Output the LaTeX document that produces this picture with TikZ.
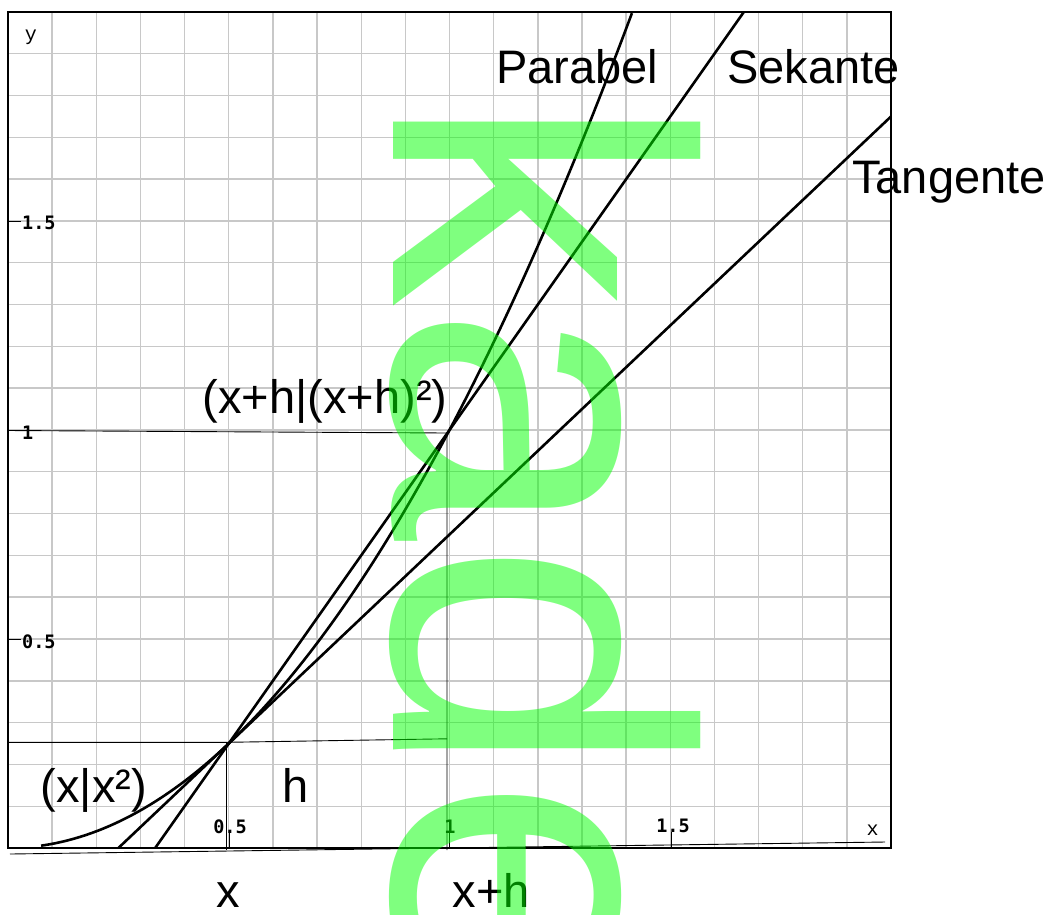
\documentclass[tikz,border=0pt]{standalone}
\usepackage{fontspec}
\setmainfont{Liberation Sans}
\newfontfamily\monof{Liberation Mono}
\newfontfamily\tickf{DejaVu Sans Mono}
\definecolor{gridgray}{RGB}{200,200,200}
\definecolor{wmgreen}{RGB}{0,255,0}
\tikzset{
  gridline/.style={draw=gridgray, line width=1.4pt},
  curve/.style={draw=black, line width=2.6pt, line join=round},
  helper/.style={draw=black, line width=0.9pt},
  tickmark/.style={draw=black, line width=0.9pt},
  frameline/.style={draw=black, line width=1.8pt},
  lbl/.style={font=\fontsize{47}{47}\selectfont, inner sep=0pt, anchor=base west},
  ticklbl/.style={font=\tickf\bfseries\fontsize{18.5}{18.5}\selectfont, inner sep=0pt},
  axlbl/.style={font=\monof\fontsize{20}{20}\selectfont, inner sep=0pt, anchor=base},
  wmtext/.style={font=\fontsize{424}{424}\selectfont, text=wmgreen, text opacity=0.5, inner sep=0pt}
}
\begin{document}
\begin{tikzpicture}[x=1pt,y=-1pt]
\useasboundingbox (0,0) rectangle (1052,914);
\fill[white] (0,0) rectangle (1052,914);

% plot area: origin (8,848), 441.5 px per x-unit, 418 px per y-unit
\begin{scope}[shift={(8,848)}, x=441.5pt, y=418pt]
  \begin{scope}
    \clip (0,0) rectangle (2,2);
    \draw[gridline] (0,0) grid[xstep=0.1,ystep=0.1] (2,2);
    \draw[curve] plot[domain=0.075:1.4143, samples=120, smooth] (\x,{\x*\x});
    \coordinate (secA) at (1/3,0);
    \coordinate (secB) at (5/3,2);
    \draw[curve] (secA) -- (secB);
    \coordinate (tanA) at (0.25,0);
    \coordinate (tanB) at (2,1.75);
    \draw[curve] (tanA) -- (tanB);
  \end{scope}
\end{scope}

% helper lines
\coordinate (hA) at (8,742.3);
\coordinate (hB) at (226.7,742.3);
\coordinate (hC) at (447,738.8);
\coordinate (hD) at (226.7,850);
\coordinate (hE) at (8,430.5);
\coordinate (hF) at (447,433);
\coordinate (hG) at (447,850);
\draw[helper] (hA) -- (hB) -- (hC);
\draw[helper] (hB) -- (hD);
\draw[helper] (hE) -- (hF) -- (hG);
\coordinate (axA) at (10,854);
\coordinate (axB) at (885,842);
\draw[helper] (axA) -- (axB);

% frame
\draw[frameline] (8,12) rectangle (891,848);

% ticks
\draw[tickmark] (8,221) -- (21,221);
\draw[tickmark] (8,430.5) -- (21,430.5);
\draw[tickmark] (8,639.3) -- (21,639.3);
\draw[tickmark] (229.3,832) -- (229.3,848);
\draw[tickmark] (449.5,832) -- (449.5,848);
\draw[tickmark] (671.7,832) -- (671.7,848);

% tick labels
\node[ticklbl, anchor=west] (y15) at (22,222.5) {1.5};
\node[ticklbl, anchor=west] (y10) at (22,432.5) {1};
\node[ticklbl, anchor=west] (y05) at (22,641.5) {0.5};
\node[ticklbl] (x05) at (230,826.5) {0.5};
\node[ticklbl] (x10) at (450,826.5) {1};
\node[ticklbl] (x15) at (673,825.5) {1.5};
\node[axlbl] (ylab) at (31,40) {y};
\node[axlbl] (xlab) at (872.5,835) {x};

% text labels
\node[lbl] (parabel) at (496,83.5) {Parabel};
\node[lbl] (sekante) at (727,83.5) {Sekante};
\node[lbl] (tangente) at (852,193.3) {Tangente};
\node[lbl] (pxh) at (202.5,413) {(x+h|(x+h)²)};
\node[lbl] (px) at (40.5,802) {(x|x²)};
\node[lbl] (hlab) at (282,802) {h};
\node[lbl] (xb) at (216.5,907) {x};
\node[lbl] (xhb) at (452.5,907) {x+h};

% watermark
\node[wmtext, rotate=-90, anchor=base west] (wm) at (393,93.5) {kade};
\end{tikzpicture}
\end{document}
